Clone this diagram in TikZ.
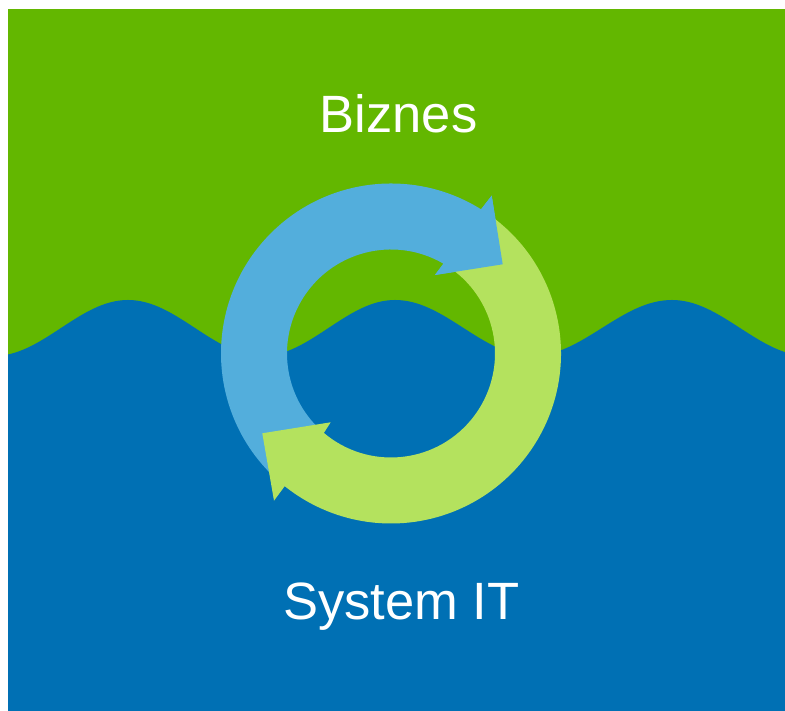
\documentclass[tikz,border=0pt]{standalone}
\usepackage{fontspec}
\setmainfont{Liberation Sans}
\usetikzlibrary{calc}
\definecolor{bizgreen}{HTML}{63B700}
\definecolor{itblue}{HTML}{0070B4}
\definecolor{arrowblue}{HTML}{53AEDC}
\definecolor{arrowgreen}{HTML}{B4E25E}
\begin{document}
\begin{tikzpicture}[x=1pt,y=1pt,
  captiontext/.style={text=white,font=\fontsize{52.5}{60}\selectfont,anchor=base,inner sep=0pt}]
\useasboundingbox (0,0) rectangle (785,711);
% backgrounds
\fill[bizgreen] (8,0) rectangle (785,702);
\begin{scope}
\clip (8,0) rectangle (785,702);
\fill[itblue] (-6,355) cos (61,383) sin (128,411) cos (195,383) sin (262,355)
  cos (328.5,383) sin (395,411) cos (463.5,383) sin (532,355)
  cos (602,383) sin (672,411) cos (740,383) sin (808,355)
  -- (808,-10) -- (-6,-10) -- cycle;
\end{scope}
% ring centre
\coordinate (C) at (391,357.5);
% blue arrow (full)
\fill[arrowblue] ($(C)+(227:170pt)$) arc[start angle=227, end angle=58, radius=170pt]
  -- (491.7,515.3) -- (502.7,446.7) -- (435,436)
  -- ($(C)+(59.7:104pt)$) arc[start angle=59.7, end angle=227, radius=104pt] -- cycle;
% green arrow (full)
\fill[arrowgreen] ($(C)+(55:170pt)$) arc[start angle=55, end angle=-128.7, radius=170pt]
  -- (274,210.3) -- (262.3,277.7) -- (330.7,288.7)
  -- ($(C)+(-130.2:104pt)$) arc[start angle=-130.2, end angle=55, radius=104pt] -- cycle;
% blue arrow head on top of green tail
\fill[arrowblue] ($(C)+(58:170pt)$) -- (491.7,515.3) -- (502.7,446.7) -- (435,436)
  -- ($(C)+(59.7:104pt)$) -- cycle;
% texts
\node[captiontext] (biz) at (398.5,578.7) {Biznes};
\node[captiontext] (sys) at (401.5,91) {System IT};
\end{tikzpicture}
\end{document}
